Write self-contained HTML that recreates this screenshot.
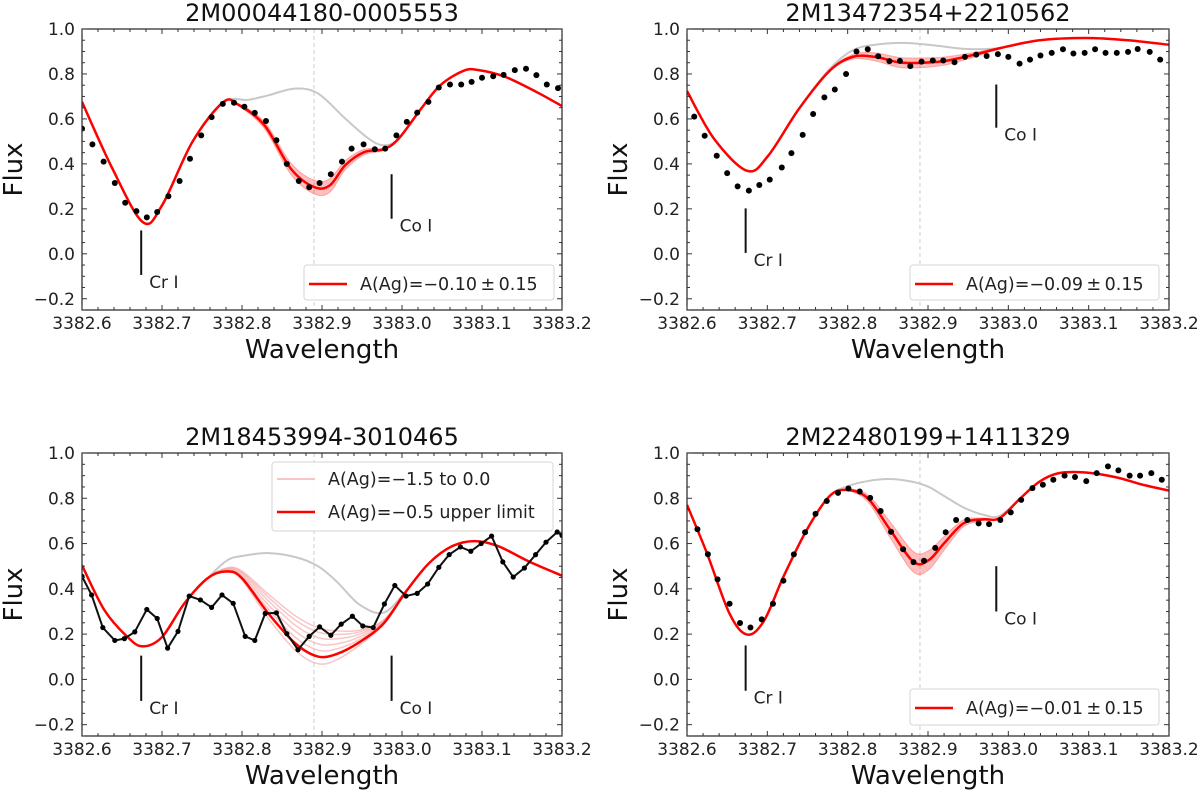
<!DOCTYPE html>
<html><head><meta charset="utf-8">
<style>
html,body{margin:0;padding:0;background:#fff;}
svg{display:block;font-family:"DejaVu Sans","Liberation Sans",sans-serif;}
</style></head>
<body>
<svg id="fig" width="1200" height="790" viewBox="0 0 1200 790" xmlns="http://www.w3.org/2000/svg"></svg>
<script>
// ---------- Panel 1: 2M00044180-0005553 ----------
const p1DotX=[3382.600,3382.613,3382.627,3382.641,3382.654,3382.668,3382.681,3382.694,3382.708,3382.722,3382.735,3382.749,3382.762,3382.776,3382.790,3382.803,3382.816,3382.830,3382.843,3382.856,3382.871,3382.884,3382.897,3382.911,3382.925,3382.937,3382.952,3382.966,3382.979,3382.993,3383.006,3383.019,3383.033,3383.046,3383.060,3383.074,3383.087,3383.100,3383.114,3383.127,3383.141,3383.155,3383.168,3383.181,3383.195];
const p1DotY=[0.557,0.487,0.41,0.315,0.227,0.19,0.162,0.186,0.256,0.324,0.423,0.527,0.608,0.667,0.672,0.654,0.627,0.591,0.505,0.40,0.324,0.296,0.315,0.354,0.41,0.468,0.487,0.465,0.468,0.527,0.587,0.628,0.676,0.74,0.753,0.753,0.765,0.783,0.79,0.796,0.817,0.823,0.795,0.753,0.737];
const p1ModX=[3382.600,3382.638,3382.676,3382.700,3382.738,3382.776,3382.795,3382.828,3382.861,3382.890,3382.910,3382.929,3382.953,3382.977,3382.996,3383.024,3383.048,3383.077,3383.096,3383.129,3383.168,3383.200];
const p1ModY=[0.676,0.379,0.141,0.215,0.498,0.673,0.664,0.572,0.379,0.297,0.305,0.394,0.453,0.465,0.513,0.646,0.75,0.814,0.817,0.787,0.72,0.657];
const p1Band=[0,0,0,0,0,0,0.005,0.015,0.025,0.03,0.03,0.02,0.012,0.005,0,0,0,0,0,0,0,0];
const p1GrayX=[3382.600,3382.638,3382.676,3382.700,3382.738,3382.776,3382.808,3382.833,3382.866,3382.895,3382.929,3382.958,3382.977,3382.996,3383.024,3383.048,3383.077,3383.096,3383.129,3383.168,3383.200];
const p1GrayY=[0.676,0.379,0.141,0.215,0.498,0.673,0.685,0.705,0.735,0.713,0.602,0.513,0.483,0.513,0.646,0.75,0.814,0.817,0.787,0.72,0.657];

// ---------- Panel 2: 2M13472354+2210562 ----------
const p2DotX=[3382.609,3382.622,3382.637,3382.650,3382.663,3382.677,3382.690,3382.703,3382.718,3382.730,3382.744,3382.757,3382.771,3382.784,3382.798,3382.811,3382.825,3382.838,3382.852,3382.865,3382.878,3382.892,3382.906,3382.919,3382.933,3382.946,3382.960,3382.973,3382.987,3383.000,3383.014,3383.027,3383.040,3383.054,3383.068,3383.081,3383.095,3383.108,3383.121,3383.135,3383.149,3383.161,3383.176,3383.189];
const p2DotY=[0.61,0.525,0.436,0.359,0.30,0.281,0.306,0.33,0.384,0.448,0.529,0.622,0.696,0.731,0.80,0.90,0.91,0.879,0.857,0.858,0.835,0.855,0.86,0.86,0.852,0.876,0.886,0.88,0.888,0.876,0.846,0.864,0.882,0.894,0.91,0.891,0.894,0.91,0.894,0.894,0.898,0.911,0.898,0.864];
const p2ModX=[3382.600,3382.634,3382.675,3382.701,3382.739,3382.777,3382.806,3382.834,3382.863,3382.887,3382.920,3382.958,3382.991,3383.039,3383.096,3383.149,3383.200];
const p2ModY=[0.724,0.51,0.369,0.436,0.643,0.812,0.876,0.876,0.852,0.849,0.857,0.886,0.916,0.95,0.96,0.95,0.93];
const p2Band=[0,0,0,0,0,0.003,0.01,0.018,0.022,0.022,0.018,0.01,0.003,0,0,0,0];
const p2GrayX=[3382.600,3382.634,3382.675,3382.701,3382.739,3382.777,3382.806,3382.834,3382.872,3382.910,3382.948,3382.991,3383.039,3383.096,3383.149,3383.200];
const p2GrayY=[0.724,0.51,0.369,0.436,0.643,0.82,0.905,0.93,0.938,0.926,0.911,0.916,0.95,0.96,0.95,0.93];

// ---------- Panel 3: 2M18453994-3010465 ----------
const p3DotX=[3382.600,3382.612,3382.626,3382.641,3382.653,3382.666,3382.681,3382.694,3382.707,3382.720,3382.734,3382.748,3382.762,3382.775,3382.789,3382.804,3382.816,3382.829,3382.843,3382.856,3382.870,3382.884,3382.897,3382.911,3382.924,3382.938,3382.951,3382.964,3382.978,3382.991,3383.005,3383.019,3383.032,3383.046,3383.059,3383.073,3383.086,3383.099,3383.112,3383.126,3383.139,3383.153,3383.167,3383.180,3383.194,3383.200];
const p3DotY=[0.455,0.373,0.229,0.172,0.18,0.21,0.309,0.269,0.138,0.212,0.368,0.351,0.318,0.373,0.336,0.19,0.172,0.291,0.294,0.202,0.131,0.19,0.232,0.195,0.244,0.279,0.236,0.229,0.333,0.415,0.368,0.38,0.421,0.495,0.551,0.585,0.566,0.60,0.633,0.519,0.452,0.492,0.551,0.606,0.651,0.636];
const p3ModX=[3382.600,3382.628,3382.657,3382.676,3382.700,3382.728,3382.757,3382.781,3382.800,3382.833,3382.867,3382.895,3382.919,3382.947,3382.977,3383.005,3383.034,3383.063,3383.091,3383.120,3383.158,3383.200];
const p3ModY=[0.504,0.306,0.187,0.146,0.187,0.336,0.447,0.477,0.447,0.291,0.158,0.101,0.113,0.165,0.247,0.388,0.514,0.589,0.611,0.589,0.522,0.458];
const p3GrayY=[0.504,0.306,0.187,0.146,0.187,0.336,0.447,0.525,0.545,0.558,0.54,0.50,0.43,0.33,0.295,0.39,0.514,0.589,0.611,0.589,0.522,0.458];
const p3PinkMix=[-0.08,0.07,0.14,0.21,0.27,0.32];

// ---------- Panel 4: 2M22480199+1411329 ----------
const p4DotX=[3382.613,3382.626,3382.638,3382.653,3382.666,3382.679,3382.693,3382.707,3382.720,3382.733,3382.747,3382.760,3382.774,3382.788,3382.801,3382.815,3382.828,3382.841,3382.854,3382.869,3382.882,3382.895,3382.909,3382.922,3382.935,3382.949,3382.963,3382.976,3382.990,3383.003,3383.016,3383.030,3383.043,3383.056,3383.070,3383.083,3383.097,3383.110,3383.124,3383.137,3383.151,3383.164,3383.178,3383.191];
const p4DotY=[0.663,0.553,0.442,0.334,0.249,0.229,0.265,0.334,0.436,0.552,0.65,0.731,0.788,0.824,0.843,0.83,0.802,0.744,0.652,0.575,0.518,0.524,0.581,0.65,0.704,0.704,0.689,0.686,0.704,0.738,0.793,0.845,0.86,0.882,0.90,0.894,0.876,0.911,0.941,0.923,0.90,0.90,0.911,0.882];
const p4ModX=[3382.600,3382.625,3382.653,3382.675,3382.696,3382.720,3382.749,3382.777,3382.799,3382.825,3382.853,3382.882,3382.901,3382.920,3382.944,3382.968,3382.989,3383.015,3383.039,3383.063,3383.096,3383.134,3383.167,3383.200];
const p4ModY=[0.771,0.556,0.29,0.198,0.26,0.453,0.66,0.808,0.837,0.80,0.66,0.519,0.527,0.601,0.689,0.707,0.712,0.80,0.874,0.911,0.914,0.893,0.86,0.834];
const p4Band=[0,0,0,0,0,0,0,0,0.004,0.015,0.035,0.045,0.042,0.03,0.015,0.006,0,0,0,0,0,0,0,0];
const p4GrayY=[0.771,0.556,0.29,0.198,0.26,0.453,0.66,0.808,0.852,0.876,0.885,0.872,0.85,0.81,0.76,0.728,0.722,0.80,0.874,0.911,0.914,0.893,0.86,0.834];

const titles=["2M00044180-0005553","2M13472354+2210562","2M18453994-3010465","2M22480199+1411329"];
const yTicks=[-0.2,0.0,0.2,0.4,0.6,0.8,1.0];
const yTickLabels=["\u22120.2","0.0","0.2","0.4","0.6","0.8","1.0"];
const xTicks=[3382.6,3382.7,3382.8,3382.9,3383.0,3383.1,3383.2];
const xTickLabels=["3382.6","3382.7","3382.8","3382.9","3383.0","3383.1","3383.2"];
const legendLabels=["A(Ag)=\u22120.10\u2009\u00b1\u20090.15","A(Ag)=\u22120.09\u2009\u00b1\u20090.15","A(Ag)=\u22120.5 upper limit","A(Ag)=\u22120.01\u2009\u00b1\u20090.15"];

const NS="http://www.w3.org/2000/svg";
const svg=document.getElementById('fig');
function mk(tag,attrs,parent){const e=document.createElementNS(NS,tag);for(const k in attrs)e.setAttribute(k,attrs[k]);(parent||svg).appendChild(e);return e;}

function smooth(pts){
  let d="M"+pts[0][0].toFixed(2)+","+pts[0][1].toFixed(2);
  for(let i=0;i<pts.length-1;i++){
    const p0=pts[i-1]||pts[i],p1=pts[i],p2=pts[i+1],p3=pts[i+2]||p2;
    const c1=[p1[0]+(p2[0]-p0[0])/6,p1[1]+(p2[1]-p0[1])/6];
    const c2=[p2[0]-(p3[0]-p1[0])/6,p2[1]-(p3[1]-p1[1])/6];
    d+="C"+c1[0].toFixed(2)+","+c1[1].toFixed(2)+" "+c2[0].toFixed(2)+","+c2[1].toFixed(2)+" "+p2[0].toFixed(2)+","+p2[1].toFixed(2);
  }
  return d;
}

function panel(box,idx){
  const g=mk('g',{});
  
  
  const sx=v=>box.x+(v-3382.6)/0.6*box.w;
  const sy=v=>box.y+(1.0-v)/1.25*box.h;
  const clipId='clip'+idx;
  const cp=mk('clipPath',{id:clipId},g);mk('rect',{x:box.x,y:box.y,width:box.w,height:box.h},cp);
  const plot=mk('g',{'clip-path':'url(#'+clipId+')'},g);
  const vl=mk('line',{x1:sx(3382.89),x2:sx(3382.89),y1:box.y,y2:box.y+box.h,stroke:'#cccccc','stroke-width':1,'stroke-dasharray':'4,3'},plot);
  
  
  return {g,plot,sx,sy};
}

function axes(P,box,idx){
  const {g,sx,sy}=P;
  const fr=mk('rect',{x:box.x,y:box.y,width:box.w,height:box.h,fill:'none',stroke:'#222','stroke-width':1.2},g);
  
  
  for(let v=-0.25;v<=1.0001;v+=0.05){
    const maj=Math.abs(Math.round(v*5)-v*5)<1e-6;const L=maj?5:3;const y=sy(v);
    mk('line',{x1:box.x,x2:box.x+L,y1:y,y2:y,stroke:'#333','stroke-width':1},g);
    mk('line',{x1:box.x+box.w,x2:box.x+box.w-L,y1:y,y2:y,stroke:'#333','stroke-width':1},g);
  }
  for(let k=0;k<=30;k++){
    const maj=k%5===0;const L=maj?5:3;const x=box.x+k/30*box.w;
    mk('line',{x1:x,x2:x,y1:box.y+box.h,y2:box.y+box.h-L,stroke:'#333','stroke-width':1},g);
    mk('line',{x1:x,x2:x,y1:box.y,y2:box.y+L,stroke:'#333','stroke-width':1},g);
  }
  yTicks.forEach((v,i)=>{const t=mk('text',{x:box.x-7,y:sy(v)+6,'text-anchor':'end','font-size':17,fill:'#222'},g);t.textContent=yTickLabels[i];
    });
  xTicks.forEach((v,i)=>{const t=mk('text',{x:sx(v),y:box.y+box.h+19,'text-anchor':'middle','font-size':17,fill:'#222'},g);t.textContent=xTickLabels[i];
    });
  const tt=mk('text',{x:box.x+box.w/2,y:box.y-8,'text-anchor':'middle','font-size':24,fill:'#111'},g);tt.textContent=titles[idx];
  
  const xl=mk('text',{x:box.x+box.w/2,y:box.y+box.h+48,'text-anchor':'middle','font-size':26,fill:'#111'},g);xl.textContent='Wavelength';
  
  const cy=box.y+box.h/2, cx=box.x-60;
  const yl=mk('text',{x:cx,y:cy,'text-anchor':'middle','font-size':26,fill:'#111',transform:'rotate(-90 '+cx+' '+cy+')'},g);yl.textContent='Flux';
  
}

function lineMarker(P,x,y1,y2,label,name){
  const {g,sx,sy}=P;
  const l=mk('line',{x1:sx(x),x2:sx(x),y1:sy(y1),y2:sy(y2),stroke:'#111','stroke-width':2},g);
  
  const t=mk('text',{x:sx(x)+8,y:sy(y2)+13,'font-size':17,fill:'#222'},g);t.textContent=label;
  
}

function curve(P,xs,ys,color,w,name,op){
  const pts=xs.map((x,i)=>[P.sx(x),P.sy(ys[i])]);
  const p=mk('path',{d:smooth(pts),fill:'none',stroke:color,'stroke-width':w,'stroke-linejoin':'round',opacity:op||1},P.plot);
  
}
function band(P,xs,ys,ws){
  const up=xs.map((x,i)=>[P.sx(x),P.sy(ys[i]+ws[i])]);
  const lo=xs.map((x,i)=>[P.sx(x),P.sy(ys[i]-ws[i])]).reverse();
  let d=smooth(up)+smooth(lo).replace('M','L')+'Z';
  const p=mk('path',{d:d,fill:'#ff0000','fill-opacity':0.25,stroke:'#ff6666','stroke-opacity':0.5,'stroke-width':1},P.plot);
  
}
function dots(P,xs,ys,connect){
  if(connect){
    const d=xs.map((x,i)=>(i?'L':'M')+P.sx(x).toFixed(2)+','+P.sy(ys[i]).toFixed(2)).join('');
    const p=mk('path',{d:d,fill:'none',stroke:'#111','stroke-width':2},P.plot);
    
  }
  xs.forEach((x,i)=>{const c=mk('circle',{cx:P.sx(x),cy:P.sy(ys[i]),r:connect?2.6:3,fill:'#000'},P.plot);
    });
}
function legend(box,entries,name){
  const g=mk('g',{});
  
  mk('rect',{x:box.x,y:box.y,width:box.w,height:box.h,rx:3,fill:'#fff','fill-opacity':0.85,stroke:'#d6d6d6','stroke-width':1},g);
  entries.forEach(e=>{
    const l=mk('line',{x1:box.x+5,x2:box.x+43,y1:e.y,y2:e.y,stroke:e.color,'stroke-width':e.w,opacity:e.op||1},g);
    
    const t=mk('text',{x:box.x+56,y:e.y+6,'font-size':17.5,fill:'#222'},g);t.textContent=e.text;
    
  });
}

const boxes=[{x:82,y:29,w:480,h:281},{x:687,y:29,w:482,h:281},{x:82,y:453,w:480,h:283},{x:687,y:453,w:482,h:283}];

// Panel 1
let P=panel(boxes[0],0);
curve(P,p1GrayX,p1GrayY,'#c8c8c8',2,'reference-no-ag-curve');
band(P,p1ModX,p1ModY,p1Band);
curve(P,p1ModX,p1ModY,'#ff0000',2.5,'best-fit-model');
dots(P,p1DotX,p1DotY,false);
axes(P,boxes[0],0);
lineMarker(P,3382.674,0.104,-0.094,'Cr I','cr-i');
lineMarker(P,3382.987,0.354,0.156,'Co I','co-i');
legend({x:304,y:265,w:250,h:35},[{y:284,color:'#ff0000',w:2.5,text:legendLabels[0]}],'legend');

// Panel 2
P=panel(boxes[1],1);
curve(P,p2GrayX,p2GrayY,'#c8c8c8',2,'reference-no-ag-curve');
band(P,p2ModX,p2ModY,p2Band);
curve(P,p2ModX,p2ModY,'#ff0000',2.5,'best-fit-model');
dots(P,p2DotX,p2DotY,false);
axes(P,boxes[1],1);
lineMarker(P,3382.673,0.202,0.004,'Cr I','cr-i');
lineMarker(P,3382.985,0.753,0.561,'Co I','co-i');
legend({x:910,y:265,w:249,h:35},[{y:284,color:'#ff0000',w:2.5,text:legendLabels[1]}],'legend');

// Panel 3
P=panel(boxes[2],2);
curve(P,p3ModX,p3GrayY,'#c8c8c8',2,'reference-no-ag-curve');
p3PinkMix.forEach(k=>{
  const ys=p3ModY.map((v,i)=>v+k*(p3GrayY[i]-v));
  curve(P,p3ModX,ys,'#f4a0a0',1.5,'abundance-grid-curve',0.6);
});
curve(P,p3ModX,p3ModY,'#ff0000',2.5,'upper-limit-model');
dots(P,p3DotX,p3DotY,true);
axes(P,boxes[2],2);
lineMarker(P,3382.674,0.105,-0.095,'Cr I','cr-i');
lineMarker(P,3382.987,0.105,-0.095,'Co I','co-i');
legend({x:272,y:462,w:281,h:69},[{y:479,color:'#f4a0a0',w:2,op:0.6,text:'A(Ag)=\u22121.5 to 0.0'},{y:512,color:'#ff0000',w:2.5,text:legendLabels[2]}],'legend');

// Panel 4
P=panel(boxes[3],3);
curve(P,p4ModX,p4GrayY,'#c8c8c8',2,'reference-no-ag-curve');
band(P,p4ModX,p4ModY,p4Band);
curve(P,p4ModX,p4ModY,'#ff0000',2.5,'best-fit-model');
dots(P,p4DotX,p4DotY,false);
axes(P,boxes[3],3);
lineMarker(P,3382.673,0.15,-0.05,'Cr I','cr-i');
lineMarker(P,3382.985,0.50,0.30,'Co I','co-i');
legend({x:910,y:689,w:249,h:36},[{y:708,color:'#ff0000',w:2.5,text:legendLabels[3]}],'legend');
</script>
</body></html>
